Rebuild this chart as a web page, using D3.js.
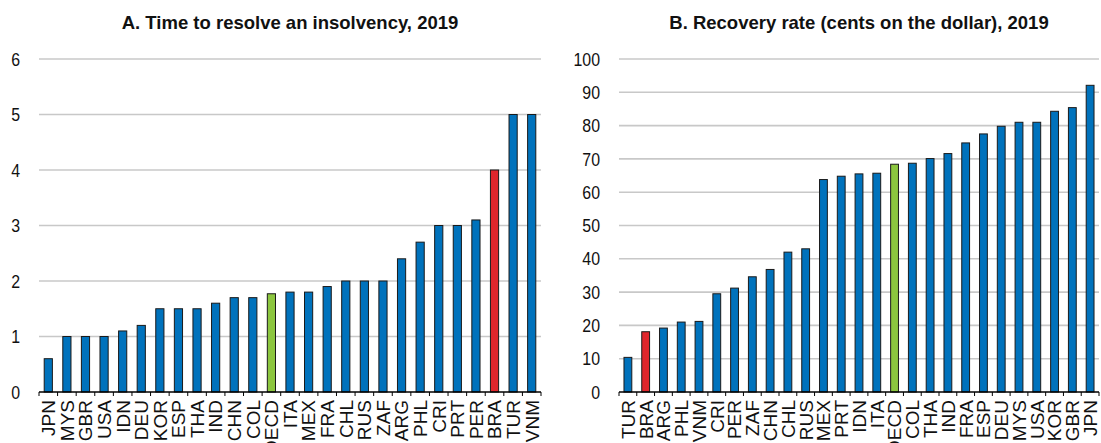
<!DOCTYPE html>
<html>
<head>
<meta charset="utf-8">
<script src="https://cdn.jsdelivr.net/npm/d3@7"></script>
<style>
  body { margin: 0; background: #fff; }
  svg { display: block; font-family: "Liberation Sans", Arial, sans-serif; }
</style>
</head>
<body>
<div id="chart"></div>
<script>
// Panel A: time to resolve an insolvency (years), 2019
const timeCountries = ["JPN", "MYS", "GBR", "USA", "IDN", "DEU", "KOR", "ESP", "THA", "IND",
    "CHN", "COL", "OECD", "ITA", "MEX", "FRA", "CHL", "RUS", "ZAF", "ARG",
    "PHL", "CRI", "PRT", "PER", "BRA", "TUR", "VNM"];
const timeValues = [0.6, 1.0, 1.0, 1.0, 1.1, 1.2, 1.5, 1.5, 1.5, 1.6,
    1.7, 1.7, 1.77, 1.8, 1.8, 1.9, 2.0, 2.0, 2.0, 2.4,
    2.7, 3.0, 3.0, 3.1, 4.0, 5.0, 5.0];
const timeTicks = [0, 1, 2, 3, 4, 5, 6];

// Panel B: recovery rate (cents on the dollar), 2019
const recoveryCountries = ["TUR", "BRA", "ARG", "PHL", "VNM", "CRI", "PER", "ZAF", "CHN", "CHL",
    "RUS", "MEX", "PRT", "IDN", "ITA", "OECD", "COL", "THA", "IND", "FRA",
    "ESP", "DEU", "MYS", "USA", "KOR", "GBR", "JPN"];
const recoveryValues = [10.4, 18.1, 19.2, 21.0, 21.2, 29.5, 31.2, 34.6, 36.8, 42.0,
    43.0, 63.8, 64.8, 65.5, 65.7, 68.4, 68.7, 70.1, 71.6, 74.8,
    77.5, 79.8, 81.0, 81.0, 84.3, 85.4, 92.1];
const recoveryTicks = [0, 10, 20, 30, 40, 50, 60, 70, 80, 90, 100];

const BLUE = "#0072bc", RED = "#e0262c", GREEN = "#8cc63f";

function barColor(code) {
    if (code === "BRA") return RED;
    if (code === "OECD") return GREEN;
    return BLUE;
}

const svg = d3.select("#chart").append("svg")
    .attr("width", 1101)
    .attr("height", 443);

function drawPanel(opts) {
    const { title, countries, values, ticks, x0, x1 } = opts;
    const top = 59, bottom = 392;
    const data = countries.map((c, i) => ({ code: c, value: values[i] }));

    const x = d3.scaleBand()
        .domain(countries)
        .range([x0, x1])
        .paddingInner(0.56)
        .paddingOuter(0.28);

    const y = d3.scaleLinear()
        .domain([ticks[0], ticks[ticks.length - 1]])
        .range([bottom, top]);

    const g = svg.append("g");

    // title
    g.append("text")
        .attr("x", (x0 + x1) / 2)
        .attr("y", 29)
        .attr("text-anchor", "middle")
        .attr("font-size", 18.5)
        .attr("font-weight", "bold")
        .attr("fill", "#111")
        .text(title);

    // gridlines
    g.append("g")
        .selectAll("line")
        .data(ticks.filter(t => t !== 0))
        .join("line")
        .attr("x1", x0)
        .attr("x2", x1)
        .attr("y1", d => y(d))
        .attr("y2", d => y(d))
        .attr("stroke", "#c8c8c8")
        .attr("stroke-width", 1.6);

    // y axis labels (slightly condensed, like the original narrow face)
    g.append("g")
        .selectAll("text")
        .data(ticks)
        .join("text")
        .attr("transform", d => `translate(${x0 - 19},${y(d)}) scale(0.86,1)`)
        .attr("dy", "0.36em")
        .attr("text-anchor", "end")
        .attr("font-size", 18.5)
        .attr("fill", "#111")
        .text(d => d);

    // bars
    g.append("g")
        .selectAll("rect")
        .data(data)
        .join("rect")
        .attr("x", d => x(d.code))
        .attr("width", x.bandwidth())
        .attr("y", d => y(d.value))
        .attr("height", d => y(0) - y(d.value))
        .attr("fill", d => barColor(d.code))
        .attr("stroke", "#1a1a1a")
        .attr("stroke-width", 1);

    // x axis: line with ticks between categories
    const step = x.step();
    const bounds = d3.range(countries.length + 1).map(i => x0 + i * step);
    g.append("line")
        .attr("x1", x0).attr("x2", x1)
        .attr("y1", bottom).attr("y2", bottom)
        .attr("stroke", "#000")
        .attr("stroke-width", 1.5);
    g.append("g")
        .selectAll("line")
        .data(bounds)
        .join("line")
        .attr("x1", d => d).attr("x2", d => d)
        .attr("y1", bottom).attr("y2", bottom + 4)
        .attr("stroke", "#000")
        .attr("stroke-width", 1);

    // category labels, rotated
    g.append("g")
        .selectAll("text")
        .data(countries)
        .join("text")
        .attr("transform", d => `translate(${x(d) + x.bandwidth() / 2},${bottom + 8}) rotate(-90)`)
        .attr("dy", "0.36em")
        .attr("text-anchor", "end")
        .attr("font-size", 19)
        .attr("fill", "#111")
        .text(d => d);
}

drawPanel({
    title: "A. Time to resolve an insolvency, 2019",
    countries: timeCountries,
    values: timeValues,
    ticks: timeTicks,
    x0: 39, x1: 541
});

drawPanel({
    title: "B. Recovery rate (cents on the dollar), 2019",
    countries: recoveryCountries,
    values: recoveryValues,
    ticks: recoveryTicks,
    x0: 619, x1: 1099
});
</script>
</body>
</html>
